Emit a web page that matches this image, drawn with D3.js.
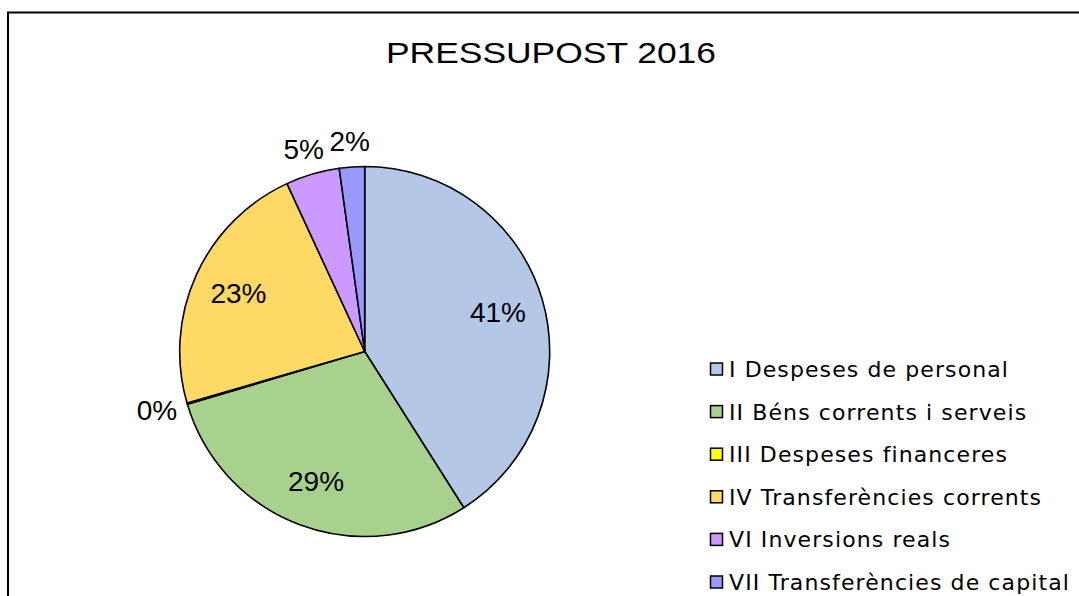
<!DOCTYPE html>
<html>
<head>
<meta charset="utf-8">
<script src="https://cdn.jsdelivr.net/npm/d3@7/dist/d3.min.js"></script>
<style>
  html, body { margin: 0; padding: 0; background: #fff; }
  svg { display: block; }
</style>
</head>
<body>
<svg id="chart" width="1079" height="596"></svg>
<script>
const title = "PRESSUPOST 2016";
const categories = [
  "I Despeses de personal",
  "II Béns corrents i serveis",
  "III Despeses financeres",
  "IV Transferències corrents",
  "VI Inversions reals",
  "VII Transferències de capital"
];
const values = [41.0, 29.4, 0.1, 22.6, 4.7, 2.2];
const colors = ["#b4c7e7", "#a9d18e", "#ffff00", "#ffd966", "#cc99ff", "#9999ff"];

const svg = d3.select("#chart");
const W = 1079, H = 596;

// frame
svg.append("rect").attr("x", 8).attr("y", 12.5).attr("width", W + 20).attr("height", H + 20)
  .attr("fill", "#fff").attr("stroke", "#000").attr("stroke-width", 2);

// title
svg.append("text").attr("x", 551).attr("y", 62.5).attr("text-anchor", "middle")
  .attr("font-family", "Liberation Sans, Arial, sans-serif").attr("font-size", 30)
  .attr("textLength", 330).attr("lengthAdjust", "spacingAndGlyphs")
  .attr("fill", "#000").text(title);

const cx = 364.7, cy = 351.5, r = 185;
const total = d3.sum(values);
const pie = d3.pie().sort(null).value(d => d)(values);
const arc = d3.arc().innerRadius(0).outerRadius(r);

const g = svg.append("g").attr("transform", `translate(${cx},${cy})`);
g.selectAll("path.slice").data(pie).enter().append("path")
  .attr("class", "slice")
  .attr("d", arc)
  .attr("fill", (d, i) => colors[i])
  .attr("stroke", "#000").attr("stroke-width", 1.6).attr("stroke-linejoin", "round");

const fmt = v => Math.round(v / total * 100) + "%";
const fs = 28;
pie.forEach((d, i) => {
  const pct = d.value / total;
  const a = (d.startAngle + d.endAngle) / 2;
  const s = Math.sin(a), c = Math.cos(a);
  const label = fmt(d.value);
  let x, y;
  if (pct >= 0.1) {
    const lr = r * 0.75;
    x = lr * s; y = -lr * c;
  } else {
    const w = label.length * fs * 0.6, h = fs * 0.72;
    const lr = r * 1.08;
    x = lr * s + (w / 2) * s;
    y = -lr * c - (h / 2) * c;
  }
  g.append("text").attr("x", x).attr("y", y).attr("dy", "0.33em")
    .attr("text-anchor", "middle")
    .attr("font-family", "Liberation Sans, Arial, sans-serif").attr("font-size", fs)
    .attr("fill", "#000").text(label);
});

// legend
const legend = svg.append("g");
const ly = d3.scalePoint().domain(categories).range([363, 576]);
categories.forEach((cat, i) => {
  legend.append("rect").attr("x", 710.5).attr("y", ly(cat)).attr("width", 12).attr("height", 12)
    .attr("fill", colors[i]).attr("stroke", "#000").attr("stroke-width", 1.5);
  legend.append("text").attr("x", 729).attr("y", ly(cat) + 14)
    .attr("font-family", "DejaVu Sans, Verdana, sans-serif").attr("font-size", 22)
    .attr("letter-spacing", 1.1)
    .attr("fill", "#000").text(cat);
});
</script>
</body>
</html>
